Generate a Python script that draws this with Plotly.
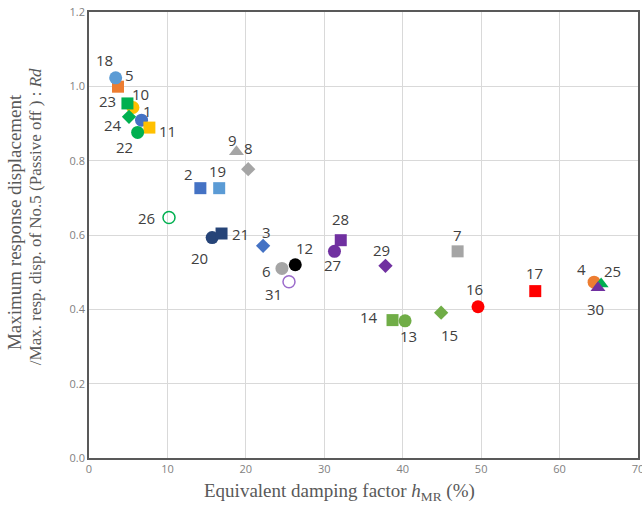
import plotly.graph_objects as go

# ---- data ----
case_no = [1, 2, 3, 4, 5, 6, 7, 8, 9, 10, 11, 12, 13, 14, 15, 16,
           17, 18, 19, 20, 21, 22, 23, 24, 25, 26, 27, 28, 29, 30, 31]
h_mr = [6.7, 14.2, 22.2, 64.4, 3.7, 24.6, 47.0, 20.3, 18.8, 5.6, 7.7, 26.3,
        40.3, 38.7, 44.9, 49.6, 56.9, 3.4, 16.6, 15.7, 16.9, 6.2, 4.9, 5.1,
        65.3, 10.2, 31.3, 32.1, 37.8, 64.9, 25.5]
rd = [0.909, 0.726, 0.571, 0.473, 0.999, 0.510, 0.556, 0.777, 0.824, 0.943,
      0.889, 0.520, 0.369, 0.371, 0.391, 0.407, 0.449, 1.023, 0.726, 0.593,
      0.604, 0.876, 0.954, 0.918, 0.468, 0.647, 0.556, 0.586, 0.517, 0.458,
      0.474]
x_ticks = [0, 10, 20, 30, 40, 50, 60, 70]
y_ticks = [0.0, 0.2, 0.4, 0.6, 0.8, 1.0, 1.2]

# ---- styles ----
BLUE, ORANGE, GRAY, YELLOW = "#4472C4", "#ED7D31", "#A5A5A5", "#FFC000"
LBLUE, LGREEN, NAVY, PURPLE = "#5B9BD5", "#70AD47", "#264478", "#7030A0"
GREEN, RED, BLACK = "#00B050", "#FF0000", "#000000"

style = {
    1: ("circle", BLUE), 2: ("square", BLUE), 3: ("diamond", BLUE),
    4: ("circle", ORANGE), 5: ("square", ORANGE),
    6: ("circle", GRAY), 7: ("square", GRAY), 8: ("diamond", GRAY), 9: ("triangle-up", GRAY),
    10: ("circle", YELLOW), 11: ("square", YELLOW), 12: ("circle", BLACK),
    13: ("circle", LGREEN), 14: ("square", LGREEN), 15: ("diamond", LGREEN),
    16: ("circle", RED), 17: ("square", RED),
    18: ("circle", LBLUE), 19: ("square", LBLUE),
    20: ("circle", NAVY), 21: ("square", NAVY),
    22: ("circle", GREEN), 23: ("square", GREEN), 24: ("diamond", GREEN),
    25: ("triangle-up", GREEN), 26: ("circle-open", GREEN),
    27: ("circle", PURPLE), 28: ("square", PURPLE), 29: ("diamond", PURPLE),
    30: ("triangle-up", PURPLE), 31: ("circle-open", "#9B6BCB"),
}
size = {"circle": 13, "square": 12, "diamond": 11, "triangle-up": 13, "circle-open": 12}

# label offsets in pixels (dx right, dy down)
label_off = {
    1: (6, -9), 2: (-12, -14), 3: (3, -14), 4: (-13, -13), 5: (11, -12),
    6: (-15, 3), 7: (0, -16), 8: (0, -21), 9: (-4, -12), 10: (8, -14),
    11: (18, 3), 12: (9, -17), 13: (3, 15), 14: (-24, -3), 15: (8, 22),
    16: (-4, -18), 17: (-1, -18), 18: (-11, -18), 19: (-2, -17), 20: (-13, 20),
    21: (19, 0), 22: (-13, 15), 23: (-20, -2), 24: (-16, 8), 25: (11, -13),
    26: (-23, 0), 27: (-2, 14), 28: (0, -21), 29: (-4, -16), 30: (-3, 21),
    31: (-15, 12),
}

fig = go.Figure()
for i, n in enumerate(case_no):
    sym, col = style[n]
    fig.add_trace(go.Scatter(
        x=[h_mr[i]], y=[rd[i]], mode="markers",
        marker=dict(symbol=sym, color=col, size=size[sym],
                    line=dict(width=1.5 if sym == "circle-open" else 0, color=col)),
        showlegend=False, hoverinfo="skip"))

for i, n in enumerate(case_no):
    dx, dy = label_off[n]
    fig.add_annotation(x=h_mr[i], y=rd[i], text=str(n), showarrow=False,
                       xshift=dx, yshift=-dy,
                       font=dict(family="Open Sans, Liberation Sans", size=15, color="#404040"))

title_font = dict(family="Liberation Serif", color="#595959")
# y-axis title (two lines)
fig.add_annotation(xref="paper", yref="paper", x=0, y=0.529, xshift=-75,
                   text="Maximum response displacement", textangle=-90,
                   showarrow=False, xanchor="center", yanchor="middle",
                   font=dict(size=19, **title_font))
fig.add_annotation(xref="paper", yref="paper", x=0, y=0.54, xshift=-54,
                   text="/Max. resp. disp. of No.5 (Passive off ) : <i>Rd</i>", textangle=-90,
                   showarrow=False, xanchor="center", yanchor="middle",
                   font=dict(size=17, **title_font))
# x-axis title
fig.add_annotation(xref="paper", yref="paper", x=0.457, y=0, yshift=-34,
                   text="Equivalent damping factor <i>h</i><sub>MR</sub> (%)",
                   showarrow=False, xanchor="center", yanchor="middle",
                   font=dict(size=19, **title_font))

fig.update_layout(
    width=642, height=511,
    margin=dict(l=89, r=4, t=12, b=53),
    paper_bgcolor="white", plot_bgcolor="white",
    xaxis=dict(range=[0, 70], tickvals=x_ticks, showgrid=True, gridcolor="#D9D9D9",
               zeroline=False, showline=True, linecolor="#595959", linewidth=1.5,
               mirror=True, ticks="", automargin=False, ticklabeloverflow="allow",
               tickfont=dict(family="Open Sans", size=11, color="#7F7F7F")),
    yaxis=dict(range=[0, 1.2], tickvals=y_ticks, tickformat=".1f", showgrid=True,
               gridcolor="#D9D9D9", zeroline=False, showline=True, linecolor="#595959",
               linewidth=1.5, mirror=True, ticks="", automargin=False,
               ticklabeloverflow="allow",
               tickfont=dict(family="Open Sans", size=11, color="#7F7F7F")),
)

fig.write_html("out.html", config={"displayModeBar": False},
               post_script="document.body.style.margin='0';document.body.style.overflow='hidden';")
